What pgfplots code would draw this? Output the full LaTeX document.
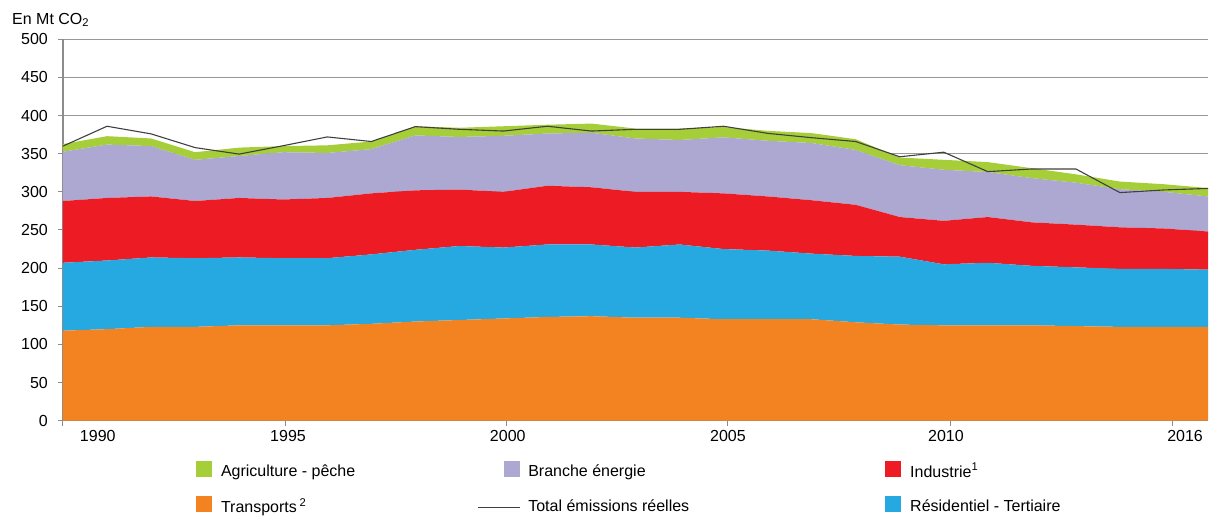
\documentclass[border=0pt]{standalone}
\usepackage{fontspec}
\setmainfont{Liberation Sans}
\usepackage{pgfplots}
\usepackage{pgfplotstable}
\pgfplotsset{compat=1.18}
\definecolor{cAgri}{RGB}{166,206,57}
\definecolor{cEner}{RGB}{172,168,209}
\definecolor{cInd}{RGB}{237,28,36}
\definecolor{cRes}{RGB}{38,169,224}
\definecolor{cTra}{RGB}{243,130,33}
\definecolor{cTot}{RGB}{64,64,64}
\definecolor{cAxis}{RGB}{140,140,140}

\pgfplotstableread{
year T R I E A Tot
1990 118 89 81 64.6 10 360
1991 120 90 82 70 11 386
1992 123 91 80 66 10 376
1993 123 90 75 54 10 358
1994 125 89 78 55 11 349.5
1995 125 88 77 62 8 360.5
1996 125 88 79 59 10 372
1997 127 91 80 58 10 366
1998 130 94 78 72 12 385.5
1999 132 97 74 69 12 382
2000 134 93 73 73.5 12.5 379.7
2001 136 95 77 68.5 11.5 386
2002 137 94 75 71.5 12 379.7
2003 135 92 73 70 13 382
2004 135 96 69 68 15 382
2005 133 92 73 73.5 13.5 386
2006 133 90 71 73 13 376.7
2007 133 86 70 75 13 371
2008 129 87 67 72 14 366
2009 126 89 52 68 10 346
2010 125 80 57 67 13 352
2011 125 82 60 59 13 326.5
2012 125 78 57 58 13 330
2013 124 77 56 55 11 330
2014 123 76 54.5 50 10 299
2015 123 76 53 48 10 302.5
2016 123 75 50 46 11 304.5
}\data

\pgfplotsset{
  sq/.style={legend image code/.code={\path[draw=none,fill=none] (0pt,-6pt) rectangle (42pt,10pt);
     \fill[#1, draw=none] (26pt,-5.7pt) rectangle (42pt,10.3pt);}},
  ln/.style={legend image code/.code={\path[draw=none,fill=none] (0pt,-6pt) rectangle (42pt,10pt);
     \draw[cTot, line width=1pt] (0pt,-1.5pt) -- (42pt,-1.5pt);}},
}

\begin{document}
\begin{tikzpicture}[font=\fontsize{16}{19}\selectfont]
\useasboundingbox (-63pt,-97.3pt) rectangle (1146pt,420.7pt);
\begin{axis}[
  at={(0,0)}, anchor=south west,
  scale only axis, width=1145pt, height=381.4pt,
  xmin=1990, xmax=2016, ymin=0, ymax=500,
  clip=false,
  stack plots=y,
  ytick={0,50,...,500},
  xtick={1990,1995.05,2000.08,2005.1,2010.15,2015.2},
  xticklabels={},
  extra x ticks={1990.79,1995.11,2000.1,2005.1,2010.05,2015.48},
  extra x tick labels={1990,1995,2000,2005,2010,2016},
  extra x tick style={major tick length=0pt, xticklabel style={inner sep=0pt, anchor=north, yshift=-9pt}},
  axis x line=bottom, axis y line=left,
  axis line style={draw=cAxis, line width=1.2pt, -},
  tick align=outside, major tick length=5pt,
  tick style={draw=cAxis, line width=1pt},
  ymajorgrids, grid style={draw=cAxis!90, line width=0.8pt},
  yticklabel style={inner sep=0pt, anchor=east, xshift=-10pt},
  /pgf/number format/assume math mode=true,
  legend columns=3,
  legend cell align=left,
  legend style={at={(rel axis cs:0,0)}, anchor=north west, xshift=107pt, yshift=-40pt,
    draw=none, fill=none, inner sep=0pt, outer sep=0pt, row sep=17pt,
    font=\fontsize{16}{19}\selectfont,
    nodes={inner sep=0pt},
    /tikz/column 1/.style={column sep=9pt},
    /tikz/column 2/.style={column sep=122pt},
    /tikz/column 3/.style={column sep=8pt},
    /tikz/column 4/.style={column sep=170pt},
    /tikz/column 5/.style={column sep=9pt}},
]
\addlegendimage{sq=cAgri}\addlegendentry{Agriculture - pêche}
\addlegendimage{sq=cEner}\addlegendentry{Branche énergie}
\addlegendimage{sq=cInd}\addlegendentry{Industrie\textsuperscript{1}}
\addlegendimage{sq=cTra}\addlegendentry{Transports\,\textsuperscript{2}}
\addlegendimage{ln}\addlegendentry{Total émissions réelles}
\addlegendimage{sq=cRes}\addlegendentry{Résidentiel - Tertiaire}

\addplot[fill=cTra, draw=none, forget plot] table[x=year, y=T]{\data} \closedcycle;
\addplot[fill=cRes, draw=none, forget plot] table[x=year, y=R]{\data} \closedcycle;
\addplot[fill=cInd, draw=none, forget plot] table[x=year, y=I]{\data} \closedcycle;
\addplot[fill=cEner, draw=none, forget plot] table[x=year, y=E]{\data} \closedcycle;
\addplot[fill=cAgri, draw=none, forget plot] table[x=year, y=A]{\data} \closedcycle;

\node[anchor=base west, inner sep=0pt, xshift=-51pt, yshift=15pt] at (rel axis cs:0,1) {En Mt CO\textsubscript{2}};
\end{axis}
\begin{axis}[
  at={(0,0)}, anchor=south west,
  scale only axis, width=1145pt, height=381.4pt,
  xmin=1990, xmax=2016, ymin=0, ymax=500,
  hide axis, clip=false,
]
\addplot[draw=cTot, line width=1.1pt, forget plot] table[x=year, y=Tot]{\data};
\end{axis}
\end{tikzpicture}
\end{document}
